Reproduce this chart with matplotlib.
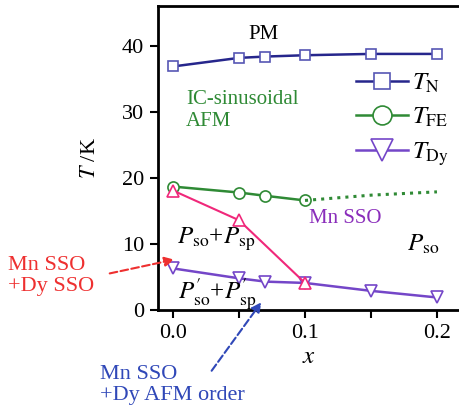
import numpy as np
import matplotlib.pyplot as plt

plt.rcParams['font.family'] = ['Liberation Serif', 'DejaVu Serif']
plt.rcParams['mathtext.fontset'] = 'stix'

# data
x_n = [0.0, 0.05, 0.07, 0.1, 0.15, 0.2]
t_n = [36.9, 38.2, 38.4, 38.6, 38.8, 38.8]

x_fe = [0.0, 0.05, 0.07, 0.1]
t_fe = [18.7, 17.8, 17.3, 16.6]
x_fe_dot = [0.1, 0.15, 0.2]
t_fe_dot = [16.6, 17.4, 17.9]

x_dy = [0.0, 0.05, 0.07, 0.1, 0.15, 0.2]
t_dy = [6.3, 4.8, 4.3, 4.1, 2.9, 1.9]

x_sp = [0.0, 0.05, 0.1]
t_sp = [18.1, 13.6, 4.1]

c_n = '#26268c'
c_n_m = '#5656b4'
c_fe = '#2f8a35'
c_dy = '#7446c8'
c_sp = '#f0287a'

fig = plt.figure(figsize=(4.6, 4.11), dpi=100)
ax = fig.add_axes([158 / 460, 101 / 411, 301 / 460, 304 / 411])

ax.plot(x_n, t_n, '-s', color=c_n, lw=1.8, ms=7, mfc='white', mec=c_n_m, mew=1.2, label=r'$T_{\mathrm{N}}$')
ax.plot(x_fe, t_fe, '-o', color=c_fe, lw=1.8, ms=8, mfc='white', mec=c_fe, mew=1.2, label=r'$T_{\mathrm{FE}}$')
ax.plot(x_fe_dot, t_fe_dot, ':', color=c_fe, lw=2.2)
ax.plot(x_sp, t_sp, '-^', color=c_sp, lw=1.5, ms=8, mfc='white', mec=c_sp, mew=1.2, zorder=3)
ax.plot(x_dy, t_dy, '-v', color=c_dy, lw=1.8, ms=9, mfc='white', mec=c_dy, mew=1.2, label=r'$T_{\mathrm{Dy}}$')

ax.set_xlim(-0.0114, 0.2167)
ax.set_ylim(0, 46.06)
ax.set_xticks([0.0, 0.05, 0.1, 0.15, 0.2])
ax.set_xticklabels(['0.0', '', '0.1', '', '0.2'])
ax.set_yticks([0, 10, 20, 30, 40])
ax.tick_params(direction='out', length=6, width=1.5, labelsize=16, pad=4)
for s in ax.spines.values():
    s.set_linewidth(2)
ax.spines['right'].set_visible(False)

ax.set_xlabel(r'$x$', fontsize=18, labelpad=2)
ax.set_ylabel(r'$T$ /K', fontsize=16, labelpad=16)

leg = ax.legend(loc='upper right', bbox_to_anchor=(1.0, 0.817), frameon=False, fontsize=18,
                handlelength=2.1, markerscale=1.7, labelspacing=0.45, handletextpad=0.15, borderaxespad=0.0)

ax.text(0.057, 41.0, 'PM', fontsize=15)
ax.text(0.01, 33.4, 'IC-sinusoidal\nAFM', fontsize=15, color=c_fe, linespacing=1.25, va='top')
ax.text(0.103, 13.2, 'Mn SSO', fontsize=15, color='#8a2dbb')
ax.text(0.177, 9.0, r'$P_{\mathrm{so}}$', fontsize=18)
ax.text(0.003, 10.0, r'$P_{\mathrm{so}}$+$P_{\mathrm{sp}}$', fontsize=18)
ax.text(0.004, 1.6, r"$P^{\prime}_{\mathrm{so}}$+$P^{\prime}_{\mathrm{sp}}$", fontsize=18)

fig.text(8 / 460, 1 - 276 / 411, 'Mn SSO\n+Dy SSO', fontsize=16, color='#ee3030', va='center', linespacing=1.2)
fig.text(100 / 460, 1 - 385 / 411, 'Mn SSO\n+Dy AFM order', fontsize=16, color='#3048b8', va='center', linespacing=1.2)

ax.annotate('', xy=(177 / 460, 1 - 259 / 411), xytext=(107 / 460, 1 - 274 / 411),
            xycoords='figure fraction', textcoords='figure fraction',
            arrowprops=dict(arrowstyle='-|>', color='#ee3030', lw=1.5, ls='--', mutation_scale=14),
            annotation_clip=False)
ax.annotate('', xy=(263 / 460, 1 - 300 / 411), xytext=(210 / 460, 1 - 373 / 411),
            xycoords='figure fraction', textcoords='figure fraction',
            arrowprops=dict(arrowstyle='-|>', color='#3048b8', lw=1.5, ls='--', mutation_scale=14),
            annotation_clip=False)

fig.savefig('out.png', dpi=100)
